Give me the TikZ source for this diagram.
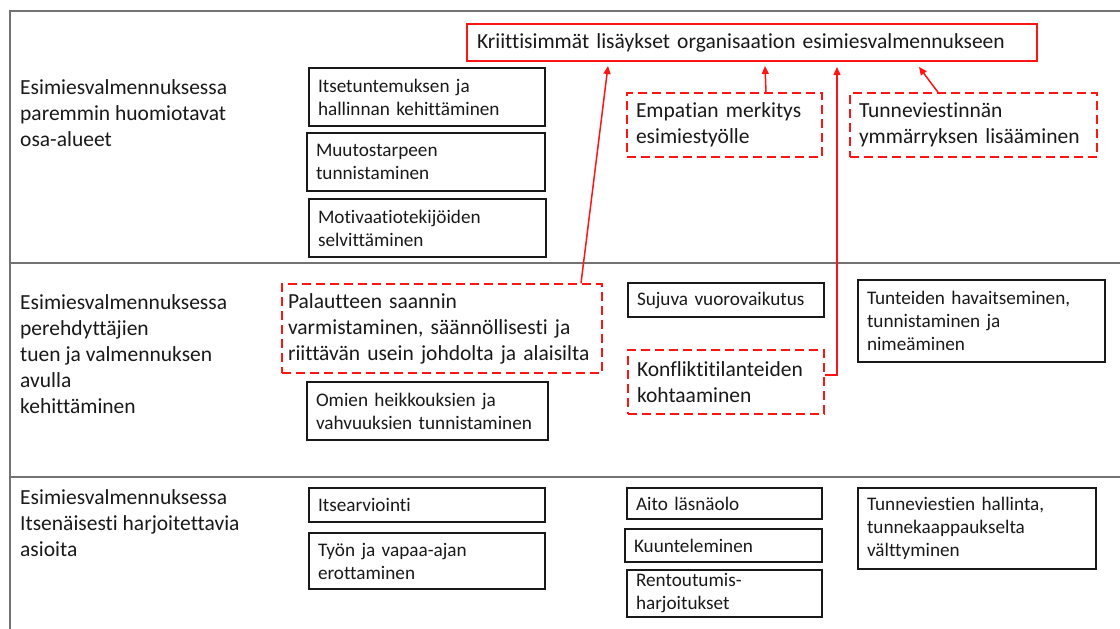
\documentclass[tikz,border=0pt]{standalone}
\usepackage{fontspec}
\setmainfont{Carlito}[Ligatures={NoCommon}]
\usetikzlibrary{arrows.meta,calc}
\definecolor{framec}{RGB}{115,115,115}
\definecolor{ink}{RGB}{25,25,25}
\definecolor{rd}{RGB}{255,20,20}
\tikzset{
 bigf/.style={font=\fontsize{21.5}{26}\selectfont},
 smallf/.style={font=\fontsize{19.2}{23}\selectfont},
 bbox/.style={draw=ink, line width=1.4pt, rectangle, inner sep=0pt, align=left, text=ink, smallf},
 rbox/.style={draw=rd, line width=1.5pt, dash pattern=on 9pt off 5pt, rectangle, inner sep=0pt, align=left, text=ink, bigf},
 kbox/.style={draw=rd, line width=2pt, rectangle, inner sep=0pt, align=left, text=ink, bigf},
 lab/.style={anchor=west, inner sep=0pt, align=left, text=ink, bigf},
 arr/.style={draw=rd, line width=1.5pt, -{Triangle[length=8pt,width=7pt]}},
 frm/.style={draw=framec, line width=2pt}
}
\begin{document}
\begin{tikzpicture}[x=1pt,y=-1pt]
\useasboundingbox (0,0) rectangle (1120,629);
% frame
\draw[frm] (1120,11) -- (10,11) -- (10,629);
\draw[frm] (10,263) -- (1120,263);
\draw[frm] (10,477) -- (1120,477);
% row labels
\node[lab] (l1) at (20,113) {Esimiesvalmennuksessa\\paremmin huomiotavat\\osa-alueet};
\node[lab] (l2) at (20,354.5) {Esimiesvalmennuksessa\\perehdyttäjien\\tuen ja valmennuksen\\avulla\\kehittäminen};
\node[lab] (l3) at (20,523) {Esimiesvalmennuksessa\\Itsenäisesti harjoitettavia\\asioita};
% top box
\node[kbox, minimum width=570pt, minimum height=37pt, text width=550pt] (kr) at (752,42.5) {Kriittisimmät lisäykset organisaation esimiesvalmennukseen};
% row 1
\node[bbox, minimum width=236pt, minimum height=58pt, text width=218pt] (a1) at (427,97) {Itsetuntemuksen ja\\hallinnan kehittäminen};
\node[bbox, minimum width=238pt, minimum height=58pt, text width=220pt] (a2) at (426,162) {Muutostarpeen\\tunnistaminen};
\node[bbox, minimum width=237pt, minimum height=58pt, text width=219pt] (a3) at (427.5,228) {Motivaatiotekijöiden\\selvittäminen};
\node[rbox, minimum width=195pt, minimum height=64pt, text width=177pt] (emp) at (724.5,125) {Empatian merkitys\\esimiestyölle};
\node[rbox, minimum width=247pt, minimum height=64pt, text width=229pt] (tv) at (973.5,125) {Tunneviestinnän\\ymmärryksen lisääminen};
% row 2
\node[rbox, minimum width=320pt, minimum height=89pt, text width=308pt] (pal) at (442,328.5) {Palautteen saannin\\varmistaminen, säännöllisesti ja\\riittävän usein johdolta ja alaisilta};
\node[bbox, minimum width=241pt, minimum height=58pt, text width=223pt] (om) at (427.5,411) {Omien heikkouksien ja\\vahvuuksien tunnistaminen};
\node[bbox, minimum width=196pt, minimum height=34pt, text width=178pt] (suj) at (726,300) {Sujuva vuorovaikutus};
\node[rbox, minimum width=196pt, minimum height=64pt, text width=178pt] (kon) at (726,382) {Konfliktitilanteiden\\kohtaaminen};
\node[bbox, minimum width=247pt, minimum height=82pt, text width=229pt] (tun) at (981.5,321) {Tunteiden havaitseminen,\\tunnistaminen ja\\nimeäminen};
% row 3
\node[bbox, minimum width=236pt, minimum height=34pt, text width=218pt] (its) at (427,505) {Itsearviointi};
\node[bbox, minimum width=236pt, minimum height=56pt, text width=218pt] (tyo) at (427,561) {Työn ja vapaa-ajan\\erottaminen};
\node[bbox, minimum width=195pt, minimum height=31pt, text width=177pt] (aito) at (724.5,503.5) {Aito läsnäolo};
\node[bbox, minimum width=197pt, minimum height=33pt, text width=179pt] (kuu) at (723.5,545.5) {Kuunteleminen};
\node[bbox, minimum width=195pt, minimum height=47pt, text width=177pt] (ren) at (724.5,593.5) {Rentoutumis-\\harjoitukset};
\node[bbox, minimum width=238pt, minimum height=81pt, text width=220pt] (tvh) at (977,528.5) {Tunneviestien hallinta,\\tunnekaappaukselta\\välttyminen};
% connectors
\draw[arr] ($(pal.north)+(139,0)$) -- ($(kr.south west)+(142,4)$);
\draw[arr] ($(emp.north)+(41.5,0)$) -- ($(kr.south west)+(299,4)$);
\draw[arr] ($(tv.north)+(-35.5,0)$) -- ($(kr.south west)+(453,5)$);
\draw[arr] ($(kon.east)+(0,-7)$) -| ($(kr.south west)+(371,5)$);
\end{tikzpicture}
\end{document}
